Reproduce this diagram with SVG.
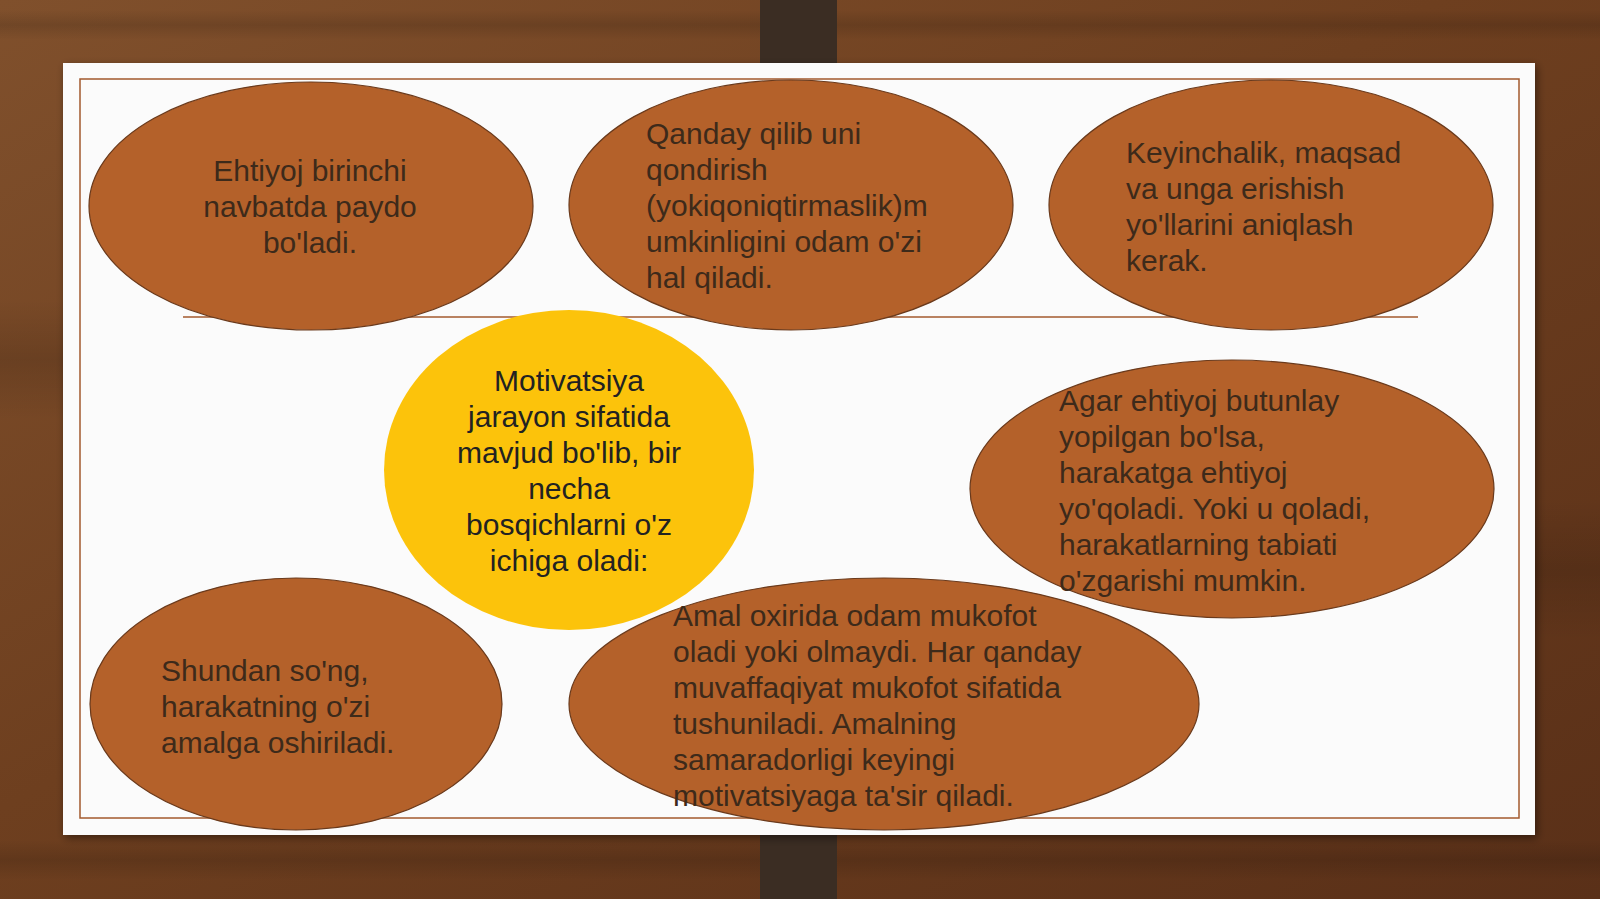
<svg xmlns="http://www.w3.org/2000/svg" width="1600" height="899" viewBox="0 0 1600 899">
<defs>
<linearGradient id="wood" x1="0" y1="0" x2="1" y2="1">
<stop offset="0" stop-color="#80502c"/>
<stop offset="0.45" stop-color="#6e3f1f"/>
<stop offset="1" stop-color="#5a3018"/>
</linearGradient>
<linearGradient id="grain" x1="0" y1="0" x2="0" y2="1">
<stop offset="0" stop-color="#000" stop-opacity="0"/>
<stop offset="0.5" stop-color="#000" stop-opacity="0.12"/>
<stop offset="1" stop-color="#000" stop-opacity="0"/>
</linearGradient>
<filter id="sh" x="-5%" y="-5%" width="110%" height="110%">
<feDropShadow dx="2" dy="3" stdDeviation="4" flood-color="#000" flood-opacity="0.45"/>
</filter>
</defs>
<style>
.node{fill:#b4612a;stroke:#6a3a1c;stroke-width:1.2}
.yel{fill:#fcc30b;stroke:none}
.t{font-family:"Liberation Sans",Arial,sans-serif;font-size:30px;fill:#3d2a1a}
.c{text-anchor:middle}
.ty{font-family:"Liberation Sans",Arial,sans-serif;font-size:30px;fill:#222;text-anchor:middle}
</style>
<rect width="1600" height="899" fill="url(#wood)"/>
<rect x="0" y="10" width="1600" height="30" fill="url(#grain)"/>
<rect x="0" y="840" width="1600" height="40" fill="url(#grain)"/>
<rect x="0" y="300" width="70" height="120" fill="url(#grain)"/>
<rect x="1530" y="500" width="70" height="140" fill="url(#grain)"/>
<rect x="760" y="0" width="77" height="899" fill="#3b2d23"/>
<rect x="63" y="63" width="1472" height="772" fill="#fbfbfb" filter="url(#sh)"/>
<rect x="80" y="79" width="1439" height="739" fill="none" stroke="#a35a2e" stroke-width="1.5"/>
<g id="connectors">
<line x1="183" y1="317" x2="1418" y2="317" stroke="#a35a2e" stroke-width="1.5"/>
</g>
<g id="n1">
<ellipse class="node" cx="311" cy="206" rx="222" ry="124"/>
<text class="t c" x="310"><tspan x="310" y="181">Ehtiyoj birinchi</tspan><tspan x="310" y="217">navbatda paydo</tspan><tspan x="310" y="253">bo'ladi.</tspan></text>
</g>
<g id="n2">
<ellipse class="node" cx="791" cy="205" rx="222" ry="125"/>
<text class="t" x="646"><tspan x="646" y="144">Qanday qilib uni</tspan><tspan x="646" y="180">qondirish</tspan><tspan x="646" y="216">(yokiqoniqtirmaslik)m</tspan><tspan x="646" y="252">umkinligini odam o'zi</tspan><tspan x="646" y="288">hal qiladi.</tspan></text>
</g>
<g id="n3">
<ellipse class="node" cx="1271" cy="205" rx="222" ry="125"/>
<text class="t" x="1126"><tspan x="1126" y="163">Keyinchalik, maqsad</tspan><tspan x="1126" y="199">va unga erishish</tspan><tspan x="1126" y="235">yo'llarini aniqlash</tspan><tspan x="1126" y="271">kerak.</tspan></text>
</g>
<g id="n4">
<ellipse class="yel" cx="569" cy="470" rx="185" ry="160"/>
<text class="ty" x="569"><tspan x="569" y="391">Motivatsiya</tspan><tspan x="569" y="427">jarayon sifatida</tspan><tspan x="569" y="463">mavjud bo'lib, bir</tspan><tspan x="569" y="499">necha</tspan><tspan x="569" y="535">bosqichlarni o'z</tspan><tspan x="569" y="571">ichiga oladi:</tspan></text>
</g>
<g id="n5">
<ellipse class="node" cx="1232" cy="489" rx="262" ry="129"/>
<text class="t" x="1059"><tspan x="1059" y="411">Agar ehtiyoj butunlay</tspan><tspan x="1059" y="447">yopilgan bo'lsa,</tspan><tspan x="1059" y="483">harakatga ehtiyoj</tspan><tspan x="1059" y="519">yo'qoladi. Yoki u qoladi,</tspan><tspan x="1059" y="555">harakatlarning tabiati</tspan><tspan x="1059" y="591">o'zgarishi mumkin.</tspan></text>
</g>
<g id="n6">
<ellipse class="node" cx="296" cy="704" rx="206" ry="126"/>
<text class="t" x="161"><tspan x="161" y="681">Shundan so'ng,</tspan><tspan x="161" y="717">harakatning o'zi</tspan><tspan x="161" y="753">amalga oshiriladi.</tspan></text>
</g>
<g id="n7">
<ellipse class="node" cx="884" cy="704" rx="315" ry="126"/>
<text class="t" x="673"><tspan x="673" y="626">Amal oxirida odam mukofot</tspan><tspan x="673" y="662">oladi yoki olmaydi. Har qanday</tspan><tspan x="673" y="698">muvaffaqiyat mukofot sifatida</tspan><tspan x="673" y="734">tushuniladi. Amalning</tspan><tspan x="673" y="770">samaradorligi keyingi</tspan><tspan x="673" y="806">motivatsiyaga ta'sir qiladi.</tspan></text>
</g>
</svg>
